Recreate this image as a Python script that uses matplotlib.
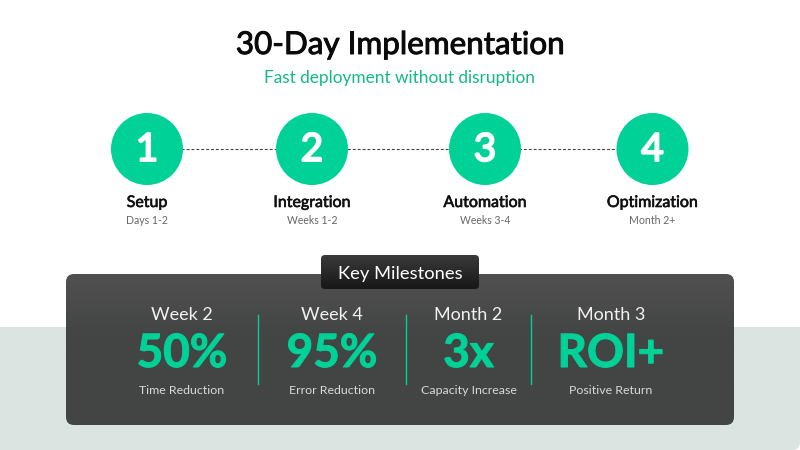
import numpy as np
import matplotlib
matplotlib.use("Agg")
import matplotlib.pyplot as plt
import matplotlib.patheffects as pe
from matplotlib.colors import LinearSegmentedColormap
from matplotlib.patches import Circle, FancyBboxPatch, Rectangle

plt.rcParams['font.family'] = ['Lato', 'DejaVu Sans']

title = "30-Day Implementation"
subtitle = "Fast deployment without disruption"

step_numbers = ["1", "2", "3", "4"]
step_names = ["Setup", "Integration", "Automation", "Optimization"]
step_times = ["Days 1-2", "Weeks 1-2", "Weeks 3-4", "Month 2+"]

periods = ["Week 2", "Week 4", "Month 2", "Month 3"]
big_values = ["50%", "95%", "3x", "ROI+"]
value_labels = ["Time Reduction", "Error Reduction", "Capacity Increase", "Positive Return"]

GREEN = "#00d196"


def thicker(color, w):
    # Lato has no medium weight, so thicken the regular one a little
    return [pe.withStroke(linewidth=w, foreground=color)]


fig = plt.figure(figsize=(8, 4.5), dpi=100)
ax = fig.add_axes([0, 0, 1, 1])
ax.set_xlim(0, 800)
ax.set_ylim(450, 0)
ax.axis("off")

# background band, only the bottom corners are round
ax.add_patch(FancyBboxPatch((-20, 327), 820, 123, boxstyle="round,pad=0,rounding_size=8",
                            fc="#dbe4e0", ec="none", zorder=1))
ax.add_patch(Rectangle((0, 327), 800, 40, fc="#dbe4e0", ec="none", zorder=1))

# header
ax.text(400, 45, title, ha="center", va="center", fontsize=22.6, color="#0a0a0a",
        path_effects=thicker("#0a0a0a", 0.7))
ax.text(400, 78.5, subtitle, ha="center", va="center", fontsize=12.4, color="#14b886")

# steps
step_x = [147, 312, 485, 652.5]
ax.plot([step_x[0], step_x[-1]], [148.5, 148.5], color="#444444", lw=0.8,
        dashes=(2.6, 1.8), zorder=2)
for i in range(4):
    ax.add_patch(Circle((step_x[i], 149), 36, fc=GREEN, ec="none", zorder=3))
    ax.text(step_x[i], 150, step_numbers[i], ha="center", va="center", fontsize=28,
            color="white", zorder=4, path_effects=thicker("white", 1.4))
    ax.text(step_x[i], 203, step_names[i], ha="center", va="center", fontsize=11.5,
            color="#111111", path_effects=thicker("#111111", 0.45))
    ax.text(step_x[i], 220.5, step_times[i], ha="center", va="center", fontsize=7.6, color="#666666")

# panel with a vertical gradient
panel = FancyBboxPatch((66, 274), 668, 151, boxstyle="round,pad=0,rounding_size=8",
                       fc="none", ec="none", zorder=3)
ax.add_patch(panel)
grad = np.clip(np.linspace(0, 1, 64).reshape(-1, 1) / 0.4, 0, 1)
panel_cmap = LinearSegmentedColormap.from_list("p", ["#505050", "#434544"])
im = ax.imshow(grad, extent=(66, 734, 425, 274), aspect="auto", cmap=panel_cmap, zorder=3)
im.set_clip_path(panel)

# tab
tab = FancyBboxPatch((321, 255), 158, 34, boxstyle="round,pad=0,rounding_size=4",
                     fc="none", ec="none", zorder=5)
ax.add_patch(tab)
grad2 = np.linspace(0, 1, 64).reshape(-1, 1)
tab_cmap = LinearSegmentedColormap.from_list("t", ["#3a3a3a", "#171717"])
im2 = ax.imshow(grad2, extent=(321, 479, 289, 255), aspect="auto", cmap=tab_cmap, zorder=5)
im2.set_clip_path(tab)
ax.text(400, 274, "Key Milestones", ha="center", va="center", fontsize=13.2, color="white", zorder=6)

ax.set_xlim(0, 800)
ax.set_ylim(450, 0)

# milestones
col_x = [182, 332, 468.5, 611]
for i in range(4):
    ax.text(col_x[i], 315, periods[i], ha="center", va="center", fontsize=13, color="#f0f0f0", zorder=6)
    ax.text(col_x[i], 354, big_values[i], ha="center", va="center", fontsize=33,
            fontweight="bold", color=GREEN, zorder=6, path_effects=thicker(GREEN, 0.8))
    ax.text(col_x[i], 390.5, value_labels[i], ha="center", va="center", fontsize=8.9, color="#d8d8d8", zorder=6)

for x in [258.5, 406.5, 531.5]:
    ax.plot([x - 0.5, x - 0.5], [315, 384], color=GREEN, lw=1, zorder=6)

fig.savefig("out.png", dpi=100)
